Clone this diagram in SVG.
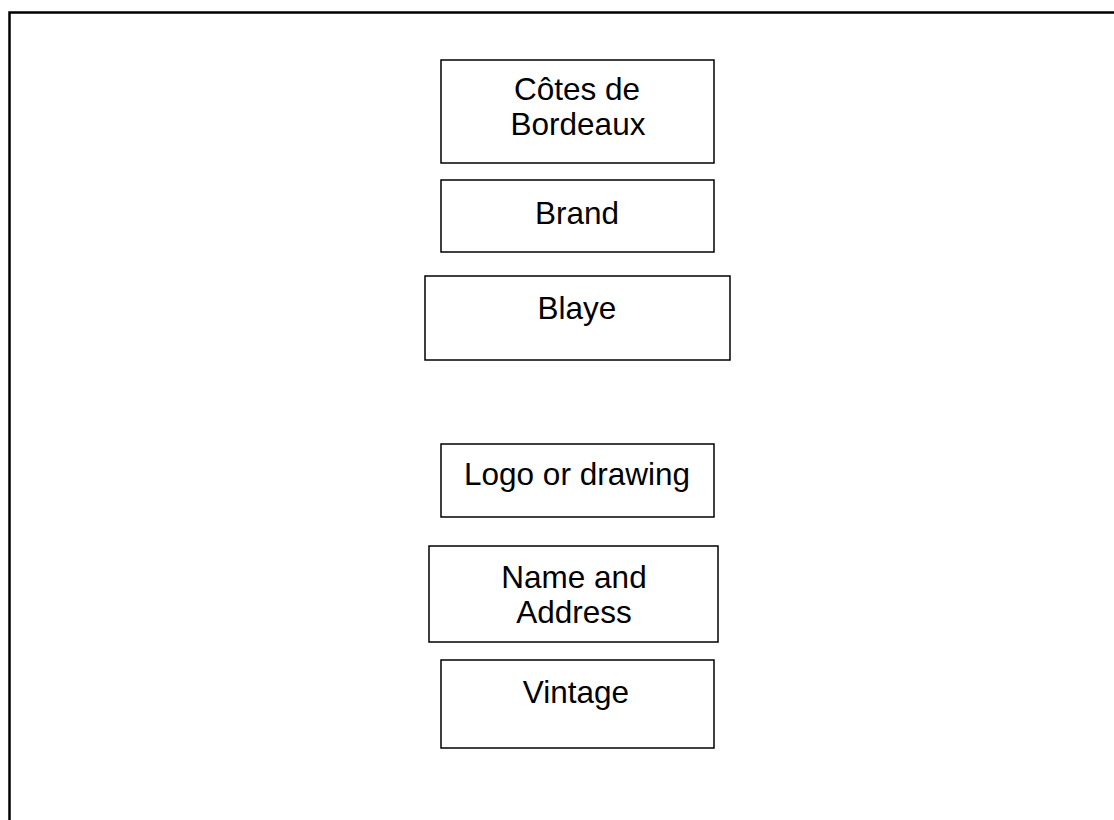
<svg xmlns="http://www.w3.org/2000/svg" width="1114" height="820" viewBox="0 0 1114 820">
<style>
.box{fill:#fff;stroke:#000;stroke-width:1.5}
.t{font-family:"Liberation Sans",Arial,sans-serif;font-size:31.5px;fill:#000;text-anchor:middle}
</style>
<rect x="0" y="0" width="1114" height="820" fill="#fff"/>
<path d="M9.5,830 V12.5 H1124" fill="none" stroke="#000" stroke-width="2.5"/>
<g id="cotes"><rect class="box" x="441" y="60" width="273" height="103"/><text class="t" x="577" y="99.5">Côtes de</text><text class="t" x="578" y="135">Bordeaux</text></g>
<g id="brand"><rect class="box" x="441" y="180" width="273" height="72"/><text class="t" x="577" y="223.5">Brand</text></g>
<g id="blaye"><rect class="box" x="425" y="276" width="305" height="84"/><text class="t" x="577" y="319">Blaye</text></g>
<g id="logo"><rect class="box" x="441" y="444" width="273" height="73"/><text class="t" x="577" y="485">Logo or drawing</text></g>
<g id="name"><rect class="box" x="429" y="546" width="289" height="96"/><text class="t" x="574" y="588">Name and</text><text class="t" x="574" y="623">Address</text></g>
<g id="vintage"><rect class="box" x="441" y="660" width="273" height="88"/><text class="t" x="576" y="702.5">Vintage</text></g>
<g id="connectors"></g>
</svg>
